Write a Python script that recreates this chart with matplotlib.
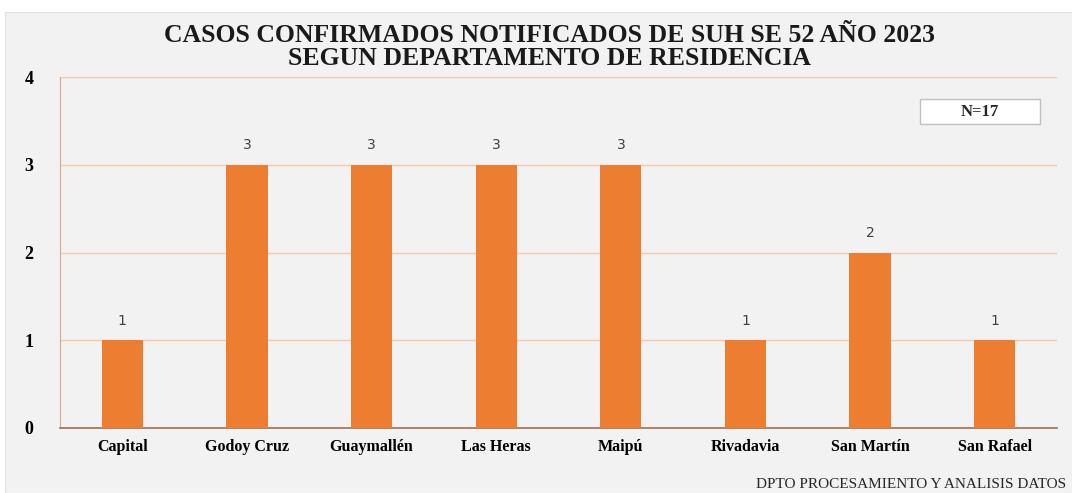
import matplotlib.pyplot as plt
from matplotlib.patches import Rectangle

departamentos = ['Capital', 'Godoy Cruz', 'Guaymallén', 'Las Heras', 'Maipú',
                 'Rivadavia', 'San Martín', 'San Rafael']
casos = [1, 3, 3, 3, 3, 1, 2, 1]
y_ticks = [0, 1, 2, 3, 4]
titulo = 'CASOS CONFIRMADOS NOTIFICADOS DE SUH SE 52 AÑO 2023\nSEGUN DEPARTAMENTO DE RESIDENCIA'
total_txt = 'N=17'
fuente = 'DPTO PROCESAMIENTO Y ANALISIS DATOS'

W, H = 1072, 493
fig = plt.figure(figsize=(W / 100, H / 100), dpi=100)
fig.patch.set_facecolor('white')
# gray chart area
bg = fig.add_axes([5 / W, 0, 1 - 5 / W, 1 - 12 / H], zorder=0)
bg.set_facecolor('#f2f2f2')
bg.set_xticks([])
bg.set_yticks([])
for s in bg.spines.values():
    s.set_color('#e0e0e0')

ax = fig.add_axes([60 / W, 1 - 428 / H, (1057 - 60) / W, (428 - 77) / H], zorder=1)
ax.set_facecolor('#f2f2f2')

x = range(len(departamentos))
bars = ax.bar(x, casos, width=0.33, color='#ed7d31', zorder=3)
ax.set_xlim(-0.5, len(departamentos) - 0.5)
ax.set_ylim(0, 4)
ax.set_yticks(y_ticks)
ax.grid(axis='y', color='#f4c9ab', lw=1, zorder=0)
ax.tick_params(length=0)
ax.tick_params(axis='y', pad=19)
ax.tick_params(axis='x', pad=8)
ax.set_xticks(list(x))
ax.set_xticklabels(departamentos, fontfamily='Liberation Serif', fontweight='bold', fontsize=11.5)
for lab in ax.get_yticklabels():
    lab.set_fontfamily('Liberation Serif')
    lab.set_fontweight('bold')
    lab.set_fontsize(13)

for s in ['top', 'right']:
    ax.spines[s].set_visible(False)
ax.spines['left'].set_color('#d9a98a')
ax.spines['bottom'].set_color('#a0704f')
ax.spines['bottom'].set_linewidth(1.2)

for b, v in zip(bars, casos):
    ax.annotate(str(v), (b.get_x() + b.get_width() / 2, v), xytext=(0, 9),
                textcoords='offset points', ha='center', va='bottom',
                fontsize=10, color='#404040')

fig.text(550 / W, 1 - 47 / H, titulo, ha='center', va='center', fontfamily='Liberation Serif',
         fontweight='bold', fontsize=18.5, linespacing=0.95, color='#1a1a1a', zorder=3)

# N=17 box
fig.patches.append(Rectangle((920 / W, 1 - 124 / H), 120 / W, 25 / H, transform=fig.transFigure,
                             facecolor='white', edgecolor='#bfbfbf', lw=1, zorder=3))
fig.text(980 / W, 1 - 111.5 / H, total_txt, ha='center', va='center', fontfamily='Liberation Serif',
         fontweight='bold', fontsize=12, color='#262626', zorder=4)

fig.text(1066 / W, 1 - 485 / H, fuente, ha='right', va='center', fontfamily='Liberation Serif',
         fontsize=11, color='#262626', zorder=3)

fig.savefig('out.png', dpi=100, facecolor=fig.get_facecolor())
